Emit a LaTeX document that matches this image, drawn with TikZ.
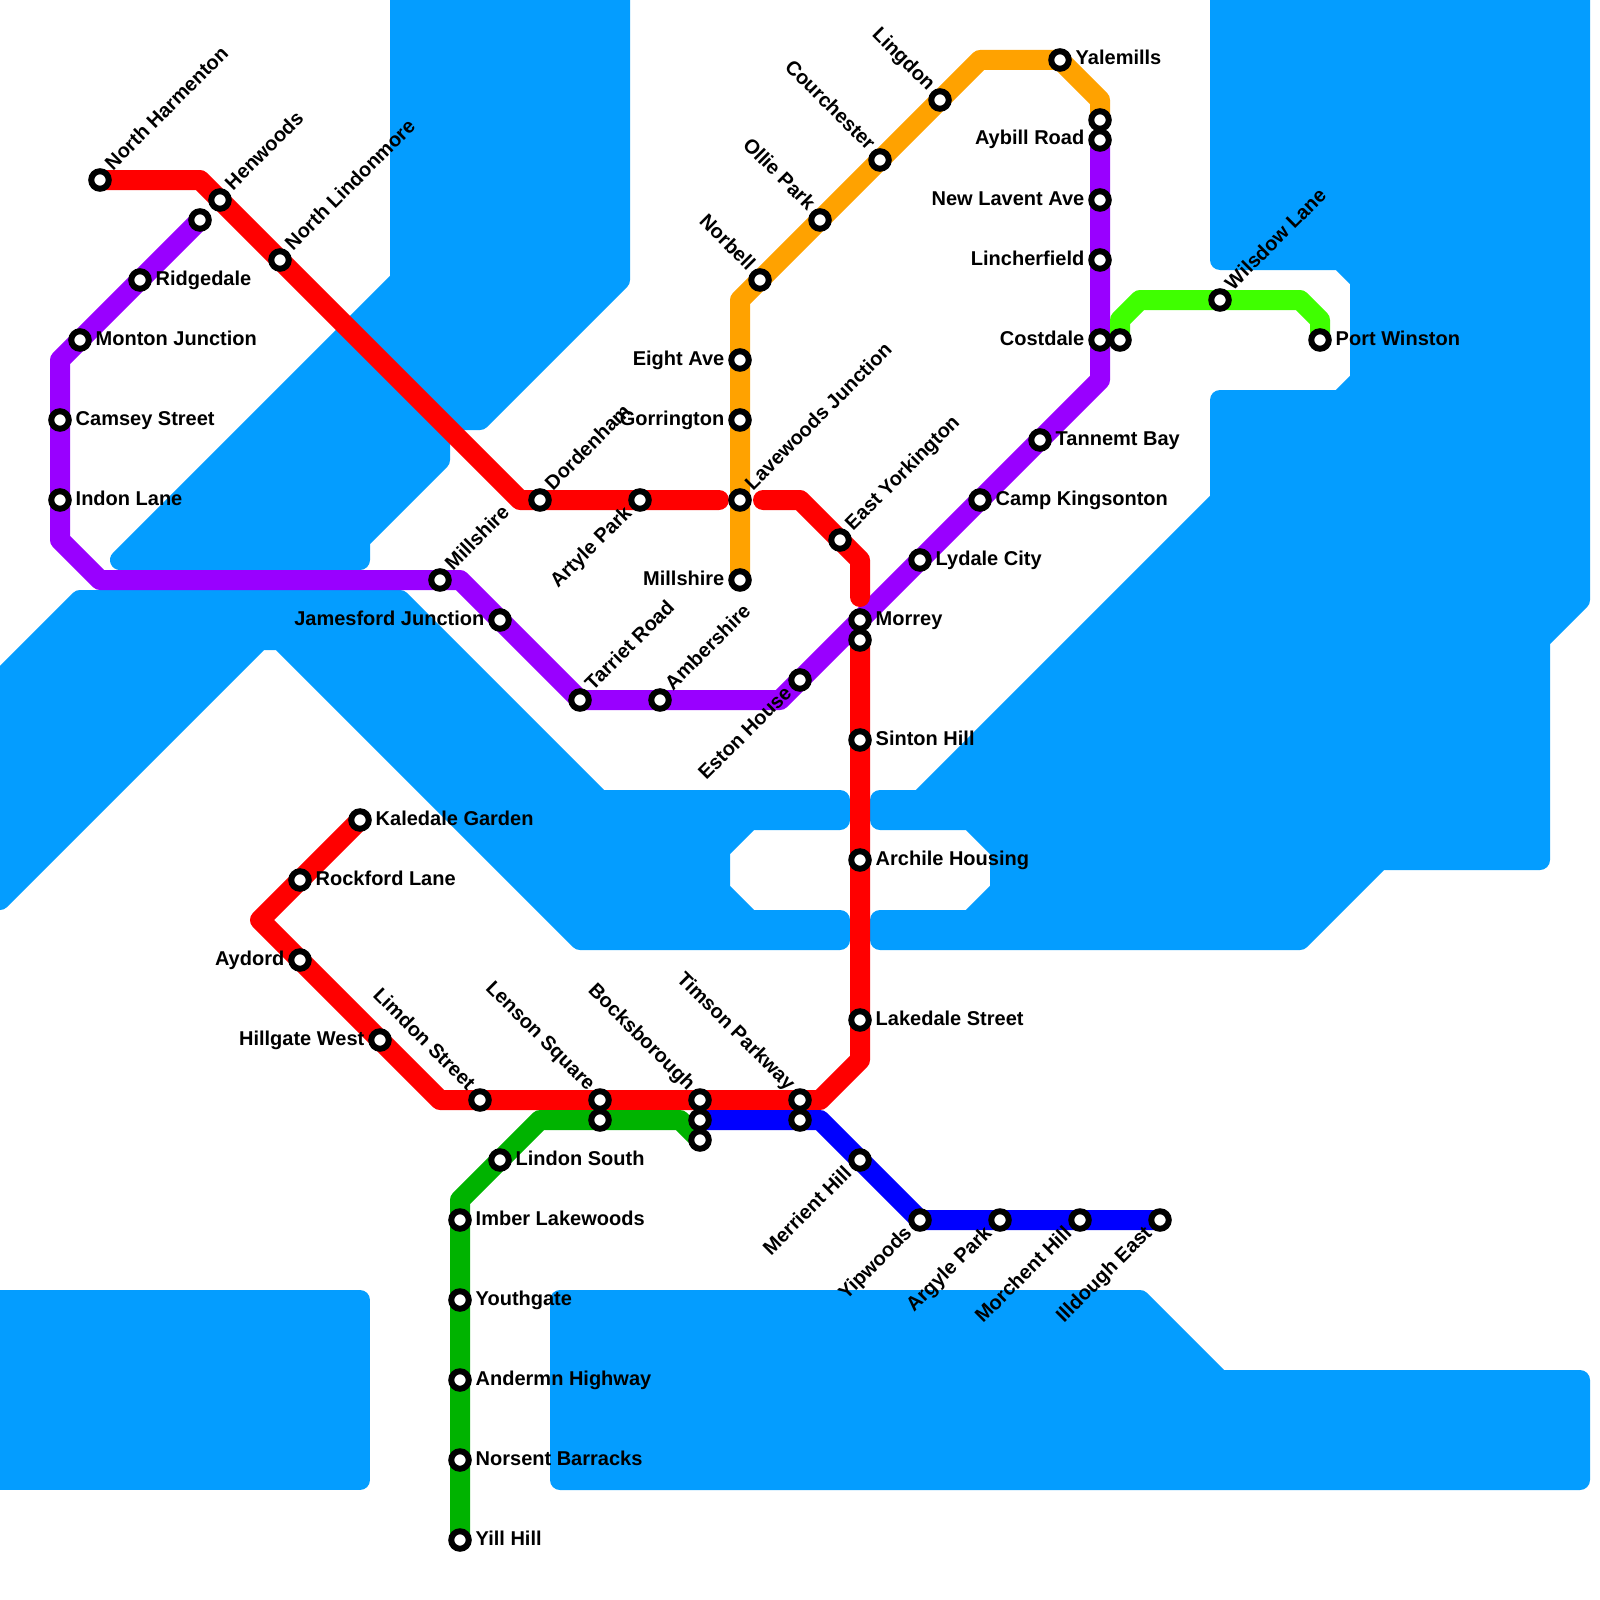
\documentclass[tikz,border=0pt]{standalone}
\usepackage{fontspec}
\setmainfont{Liberation Sans}
\usetikzlibrary{arrows.meta}
\definecolor{water}{HTML}{049DFF}
\definecolor{redline}{HTML}{FF0000}
\definecolor{purpleline}{HTML}{9900FF}
\definecolor{orangeline}{HTML}{FFA200}
\definecolor{greenline}{HTML}{00B300}
\definecolor{limeline}{HTML}{3FFF00}
\definecolor{blueline}{HTML}{0000FF}
\pgfdeclarelayer{waterlayer}
\pgfdeclarelayer{linelayer}
\pgfsetlayers{waterlayer,linelayer,main}
\begin{document}
\begin{tikzpicture}[
  x=1pt, y=-1pt,
  sea/.style={fill=water, draw=water, line width=20pt, line join=round},
  route/.style={line width=20pt, line cap=round, line join=round},
  stn/.style={circle, draw=black, fill=white, line width=6pt, outer sep=0pt, minimum size=17.5pt, inner sep=0pt},
  lbl/.style={font=\bfseries\fontsize{20}{22}\selectfont, text=black, inner sep=0pt},
  lblE/.style={lbl, anchor=base west, xshift=15.5pt, yshift=-5pt},
  lblW/.style={lbl, anchor=base east, xshift=-15.5pt, yshift=-5pt},
  lblNE/.style={lbl, anchor=base west, rotate=45, xshift=15.5pt, yshift=-3pt},
  lblNW/.style={lbl, anchor=base east, rotate=-45, xshift=-15pt, yshift=-3pt},
  lblSW/.style={lbl, anchor=base east, rotate=45, xshift=-15pt, yshift=-5pt}
]
  \useasboundingbox (0,0) rectangle (1600,1600);

  % water
  \begin{pgfonlayer}{waterlayer}
    \draw[sea] (400,-30) -- (620,-30) -- (620,280) -- (480,420) -- (440,420) -- (440,460)
      -- (360,540) -- (360,560) -- (120,560) -- (400,280) -- cycle;
    \draw[sea] (80,600) -- (400,600) -- (600,800) -- (840,800) -- (840,820) -- (750,820)
      -- (720,850) -- (720,890) -- (750,920) -- (840,920) -- (840,940) -- (580,940)
      -- (280,640) -- (260,640) -- (0,900) -- (-30,900) -- (-30,710) -- cycle;
    \draw[sea] (1220,-30) -- (1220,260) -- (1340,260) -- (1360,280) -- (1360,380) -- (1340,400)
      -- (1220,400) -- (1220,500) -- (920,800) -- (880,800) -- (880,820) -- (970,820)
      -- (1000,850) -- (1000,890) -- (970,920) -- (880,920) -- (880,940) -- (1300,940)
      -- (1380,860) -- (1540,860) -- (1540,640) -- (1580,600) -- (1580,-30) -- cycle;
    \draw[sea] (-30,1300) -- (360,1300) -- (360,1480) -- (-30,1480) -- cycle;
    \draw[sea] (560,1300) -- (1140,1300) -- (1220,1380) -- (1580,1380) -- (1580,1480) -- (560,1480) -- cycle;
  \end{pgfonlayer}

  % purple stations
  \node[stn] (topend) at (200,220) {};
  \node[stn] (ridgedale) at (140,280) {};
  \node[stn] (monton) at (80,340) {};
  \node[stn] (camsey) at (60,420) {};
  \node[stn] (indon) at (60,500) {};
  \node[stn] (millshireb) at (440,580) {};
  \node[stn] (jamesford) at (500,620) {};
  \node[stn] (tarriet) at (580,700) {};
  \node[stn] (ambershire) at (660,700) {};
  \node[stn] (eston) at (800,680) {};
  \node[stn] (morrey) at (860,620) {};
  \node[stn] (lydale) at (920,560) {};
  \node[stn] (camp) at (980,500) {};
  \node[stn] (tannemt) at (1040,440) {};
  \node[stn] (costdale) at (1100,340) {};
  \node[stn] (lincherfield) at (1100,260) {};
  \node[stn] (lavent) at (1100,200) {};
  \node[stn] (aybill) at (1100,140) {};

  % red stations
  \node[stn] (harmenton) at (100,180) {};
  \node[stn] (henwoods) at (220,200) {};
  \node[stn] (lindonmore) at (280,260) {};
  \node[stn] (dordenham) at (540,500) {};
  \node[stn] (artyle) at (640,500) {};
  \node[stn] (yorkington) at (840,540) {};
  \node[stn] (redtop) at (860,640) {};
  \node[stn] (sinton) at (860,740) {};
  \node[stn] (archile) at (860,860) {};
  \node[stn] (lakedale) at (860,1020) {};
  \node[stn] (timson) at (800,1100) {};
  \node[stn] (bocks) at (700,1100) {};
  \node[stn] (lenson) at (600,1100) {};
  \node[stn] (limdon) at (480,1100) {};
  \node[stn] (hillgate) at (380,1040) {};
  \node[stn] (aydord) at (300,960) {};
  \node[stn] (rockford) at (300,880) {};
  \node[stn] (kaledale) at (360,820) {};

  % orange stations
  \node[stn] (millshirea) at (740,580) {};
  \node[stn] (lavewoods) at (740,500) {};
  \node[stn] (gorrington) at (740,420) {};
  \node[stn] (eightave) at (740,360) {};
  \node[stn] (norbell) at (760,280) {};
  \node[stn] (ollie) at (820,220) {};
  \node[stn] (courchester) at (880,160) {};
  \node[stn] (lingdon) at (940,100) {};
  \node[stn] (yalemills) at (1060,60) {};
  \node[stn] (orangeend) at (1100,120) {};

  % lime stations
  \node[stn] (limestart) at (1120,340) {};
  \node[stn] (wilsdow) at (1220,300) {};
  \node[stn] (winston) at (1320,340) {};

  % green stations
  \node[stn] (yill) at (460,1540) {};
  \node[stn] (norsent) at (460,1460) {};
  \node[stn] (andermn) at (460,1380) {};
  \node[stn] (youthgate) at (460,1300) {};
  \node[stn] (imber) at (460,1220) {};
  \node[stn] (lindon) at (500,1160) {};
  \node[stn] (lensonb) at (600,1120) {};
  \node[stn] (greenend) at (700,1140) {};

  % blue stations
  \node[stn] (bocksb) at (700,1120) {};
  \node[stn] (timsonb) at (800,1120) {};
  \node[stn] (merrient) at (860,1160) {};
  \node[stn] (yipwoods) at (920,1220) {};
  \node[stn] (argyle) at (1000,1220) {};
  \node[stn] (morchent) at (1080,1220) {};
  \node[stn] (illdough) at (1160,1220) {};

  % lines
  \begin{pgfonlayer}{linelayer}
    \draw[route, purpleline] (topend.center) -- (ridgedale.center) -- (monton.center) -- (60,360)
      -- (camsey.center) -- (indon.center) -- (60,540) -- (100,580) -- (millshireb.center) -- (460,580)
      -- (jamesford.center) -- (tarriet.center) -- (ambershire.center) -- (780,700) -- (eston.center)
      -- (morrey.center) -- (lydale.center) -- (camp.center) -- (tannemt.center) -- (1100,380)
      -- (costdale.center) -- (lincherfield.center) -- (lavent.center) -- (aybill.center);
    \draw[route, orangeline] (millshirea.center) -- (lavewoods.center) -- (gorrington.center)
      -- (eightave.center) -- (740,300) -- (norbell.center) -- (ollie.center) -- (courchester.center)
      -- (lingdon.center) -- (980,60) -- (yalemills.center) -- (1100,100) -- (orangeend.center);
    \draw[route, redline] (harmenton.center) -- (200,180) -- (henwoods.center) -- (lindonmore.center)
      -- (520,500) -- (dordenham.center) -- (artyle.center) -- (719,500);
    \draw[route, redline] (763,500) -- (800,500) -- (yorkington.center) -- (860,560) -- (860,597);
    \draw[route, redline] (kaledale.center) -- (rockford.center) -- (260,920) -- (aydord.center)
      -- (hillgate.center) -- (440,1100) -- (limdon.center) -- (lenson.center) -- (bocks.center)
      -- (timson.center) -- (820,1100) -- (860,1060) -- (lakedale.center) -- (archile.center)
      -- (sinton.center) -- (redtop.center);
    \draw[route, greenline] (yill.center) -- (norsent.center) -- (andermn.center) -- (youthgate.center)
      -- (imber.center) -- (460,1200) -- (lindon.center) -- (540,1120) -- (lensonb.center)
      -- (680,1120) -- (greenend.center);
    \draw[route, blueline] (bocksb.center) -- (timsonb.center) -- (820,1120) -- (merrient.center)
      -- (yipwoods.center) -- (argyle.center) -- (morchent.center) -- (illdough.center);
    \draw[route, limeline] (limestart.center) -- (1120,320) -- (1140,300) -- (wilsdow.center)
      -- (1300,300) -- (1320,320) -- (winston.center);
  \end{pgfonlayer}

  % labels
  \node[lblE] (ridgedaleT) at (ridgedale) {Ridgedale};
  \node[lblE] (montonT) at (monton) {Monton Junction};
  \node[lblE] (camseyT) at (camsey) {Camsey Street};
  \node[lblE] (indonT) at (indon) {Indon Lane};
  \node[lblE] (lydaleT) at (lydale) {Lydale City};
  \node[lblE] (campT) at (camp) {Camp Kingsonton};
  \node[lblE] (tannemtT) at (tannemt) {Tannemt Bay};
  \node[lblE] (morreyT) at (morrey) {Morrey};
  \node[lblE] (sintonT) at (sinton) {Sinton Hill};
  \node[lblE] (archileT) at (archile) {Archile Housing};
  \node[lblE] (lakedaleT) at (lakedale) {Lakedale Street};
  \node[lblE] (kaledaleT) at (kaledale) {Kaledale Garden};
  \node[lblE] (rockfordT) at (rockford) {Rockford Lane};
  \node[lblE] (yalemillsT) at (yalemills) {Yalemills};
  \node[lblE] (winstonT) at (winston) {Port Winston};
  \node[lblE] (lindonT) at (lindon) {Lindon South};
  \node[lblE] (imberT) at (imber) {Imber Lakewoods};
  \node[lblE] (youthgateT) at (youthgate) {Youthgate};
  \node[lblE] (andermnT) at (andermn) {Andermn Highway};
  \node[lblE] (norsentT) at (norsent) {Norsent Barracks};
  \node[lblE] (yillT) at (yill) {Yill Hill};

  \node[lblW] (jamesfordT) at (jamesford) {Jamesford Junction};
  \node[lblW] (costdaleT) at (costdale) {Costdale};
  \node[lblW] (lincherfieldT) at (lincherfield) {Lincherfield};
  \node[lblW] (laventT) at (lavent) {New Lavent Ave};
  \node[lblW] (aybillT) at (aybill) {Aybill Road};
  \node[lblW] (millshireaT) at (millshirea) {Millshire};
  \node[lblW] (gorringtonT) at (gorrington) {Gorrington};
  \node[lblW] (eightaveT) at (eightave) {Eight Ave};
  \node[lblW] (hillgateT) at (hillgate) {Hillgate West};
  \node[lblW] (aydordT) at (aydord) {Aydord};

  \node[lblNE] (harmentonT) at (harmenton) {North Harmenton};
  \node[lblNE] (henwoodsT) at (henwoods) {Henwoods};
  \node[lblNE] (lindonmoreT) at (lindonmore) {North Lindonmore};
  \node[lblNE] (dordenhamT) at (dordenham) {Dordenham};
  \node[lblNE] (lavewoodsT) at (lavewoods) {Lavewoods Junction};
  \node[lblNE] (yorkingtonT) at (yorkington) {East Yorkington};
  \node[lblNE] (millshirebT) at (millshireb) {Millshire};
  \node[lblNE] (tarrietT) at (tarriet) {Tarriet Road};
  \node[lblNE] (ambershireT) at (ambershire) {Ambershire};
  \node[lblNE] (wilsdowT) at (wilsdow) {Wilsdow Lane};

  \node[lblNW] (norbellT) at (norbell) {Norbell};
  \node[lblNW] (ollieT) at (ollie) {Ollie Park};
  \node[lblNW] (courchesterT) at (courchester) {Courchester};
  \node[lblNW] (lingdonT) at (lingdon) {Lingdon};
  \node[lblNW] (limdonT) at (limdon) {Limdon Street};
  \node[lblNW] (lensonT) at (lenson) {Lenson Square};
  \node[lblNW] (bocksT) at (bocks) {Bocksborough};
  \node[lblNW] (timsonT) at (timson) {Timson Parkway};

  \node[lblSW] (artyleT) at (artyle) {Artyle Park};
  \node[lblSW] (estonT) at (eston) {Eston House};
  \node[lblSW] (merrientT) at (merrient) {Merrient Hill};
  \node[lblSW] (yipwoodsT) at (yipwoods) {Yipwoods};
  \node[lblSW] (argyleT) at (argyle) {Argyle Park};
  \node[lblSW] (morchentT) at (morchent) {Morchent Hill};
  \node[lblSW] (illdoughT) at (illdough) {Illdough East};
\end{tikzpicture}
\end{document}
